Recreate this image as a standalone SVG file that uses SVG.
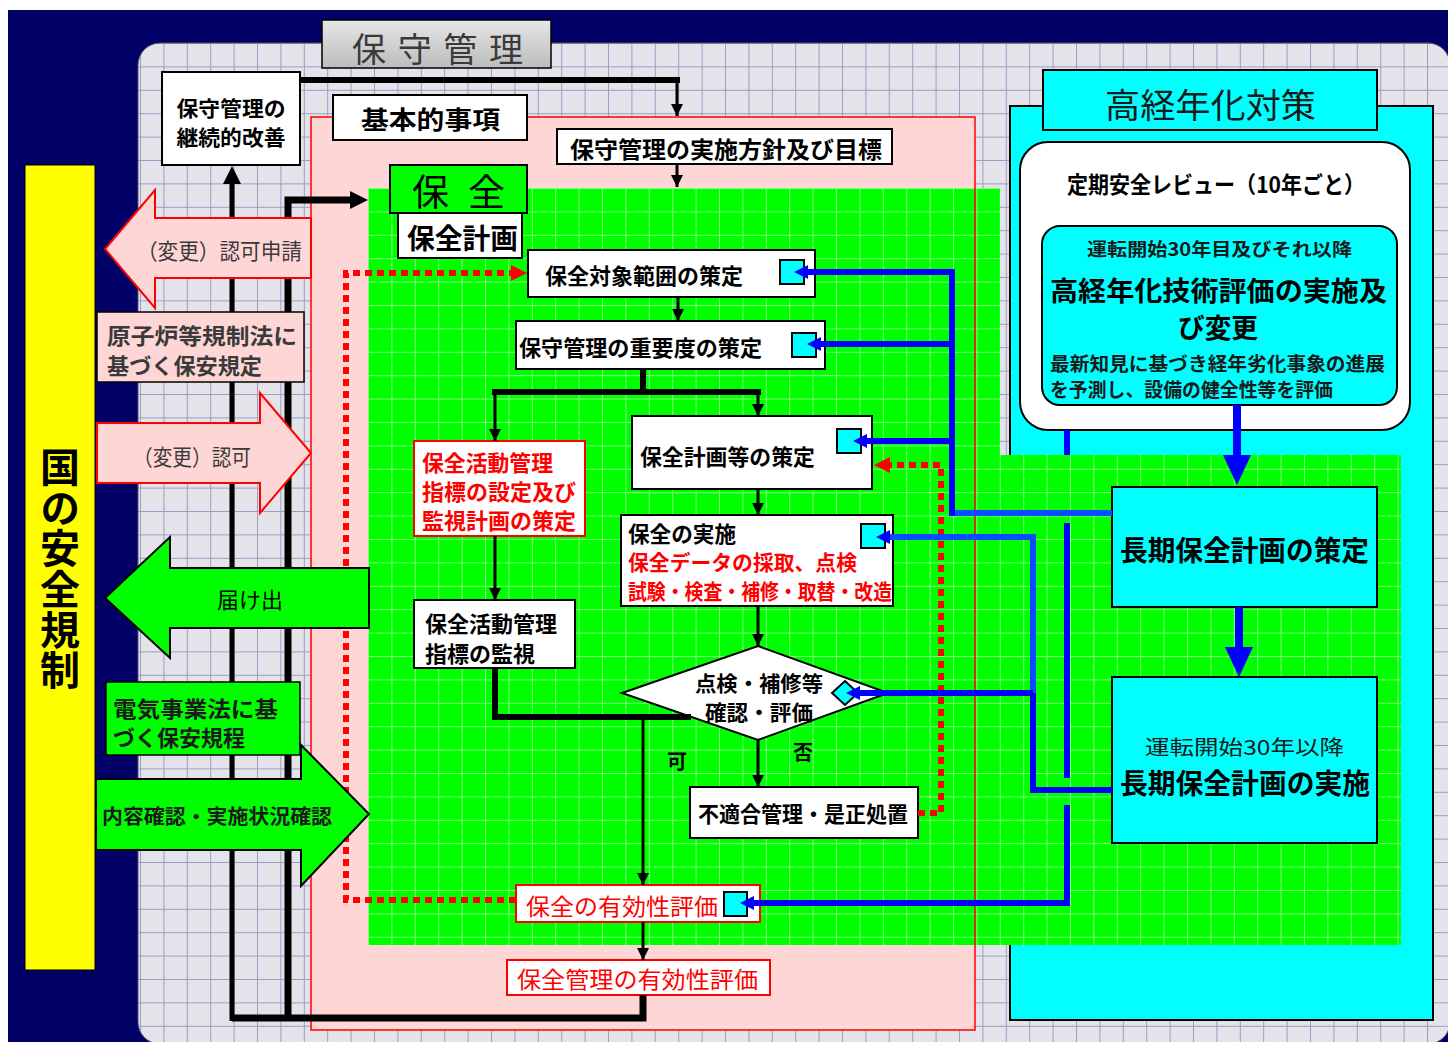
<svg xmlns="http://www.w3.org/2000/svg" width="1448" height="1042" viewBox="0 0 1448 1042">
<defs>
<style>
.t{font-family:"Noto Sans CJK JP","Noto Sans CJK SC",sans-serif;dominant-baseline:central}
.b{font-weight:700}
.m{text-anchor:middle}
.red{fill:#ff0000}
.gr{fill:#3a3a3a}
.dk{fill:#1a1a1a}
.box{fill:#ffffff;stroke:#000000;stroke-width:2}
.rbox{fill:#ffffff;stroke:#ff0000;stroke-width:2}
.sq{fill:#00ffff;stroke:#000000;stroke-width:2}
.ck{fill:none;stroke:#000000;stroke-width:3}
.ckT{fill:none;stroke:#000000;stroke-width:6}
.cb{fill:none;stroke:#0000ff;stroke-width:6}
.cb2{fill:none;stroke:#0a4cff;stroke-width:6}
.cr{fill:none;stroke:#ff0000;stroke-width:6;stroke-dasharray:7 5}
.parr{fill:#ffd6d6;stroke:#ff0000;stroke-width:2}
.garr{fill:#00ff00;stroke:#000000;stroke-width:2}
.cyan{fill:#00ffff;stroke:#000000;stroke-width:2}
</style>
<pattern id="gg" x="140" y="43" width="23.4" height="23.4" patternUnits="userSpaceOnUse">
<rect width="23.4" height="23.4" fill="#e3e3e9"/>
<path d="M0 0.5H23.4M0.5 0V23.4" stroke="#9c9cc4" stroke-width="1"/>
</pattern>
<pattern id="gn" x="368" y="188" width="23.4" height="23.4" patternUnits="userSpaceOnUse">
<rect width="23.4" height="23.4" fill="#00ff00"/>
<path d="M0 0.5H23.4M0.5 0V23.4" stroke="#80ff80" stroke-width="1"/>
</pattern>
<linearGradient id="tabg" x1="0" y1="0" x2="0" y2="1">
<stop offset="0" stop-color="#e6e6e6"/><stop offset="1" stop-color="#bcbcbc"/>
</linearGradient>
<marker id="mK" viewBox="0 0 12 12" markerWidth="12" markerHeight="12" refX="12" refY="6" orient="auto" markerUnits="userSpaceOnUse"><path d="M0,0L12,6L0,12z" fill="#000000"/></marker>
<marker id="mKL" viewBox="0 0 18 18" markerWidth="18" markerHeight="18" refX="10" refY="9" orient="auto" markerUnits="userSpaceOnUse"><path d="M0,0L18,9L0,18z" fill="#000000"/></marker>
<marker id="mB" viewBox="0 0 14 14" markerWidth="14" markerHeight="14" refX="7" refY="7" orient="auto" markerUnits="userSpaceOnUse"><path d="M0,0L14,7L0,14z" fill="#0000ff"/></marker>
<marker id="mBL" viewBox="0 0 30 28" markerWidth="30" markerHeight="28" refX="4" refY="14" orient="auto" markerUnits="userSpaceOnUse"><path d="M0,0L30,14L0,28z" fill="#0000ff"/></marker>
<marker id="mR" viewBox="0 0 16 16" markerWidth="16" markerHeight="16" refX="4" refY="8" orient="auto" markerUnits="userSpaceOnUse"><path d="M0,0L16,8L0,16z" fill="#ff0000"/></marker>
</defs>

<g id="background">
<rect x="0" y="0" width="1448" height="1042" fill="#ffffff"/>
<rect x="8" y="10" width="1440" height="1032" fill="#000066"/>
<rect x="138" y="43" width="1312" height="1001" rx="22" fill="url(#gg)" stroke="#555566" stroke-width="1"/>
</g>

<g id="region-kihon">
<rect x="311" y="117" width="664" height="913" fill="#ffd6d6"/>
</g>
<g id="region-kokeinen">
<rect x="1010" y="106" width="423" height="914" fill="#00ffff" stroke="#000000" stroke-width="2"/>
</g>
<g id="region-hozen">
<path d="M368 188H1000V455H1401V945H368Z" fill="url(#gn)"/>
</g>
<rect x="311" y="117" width="664" height="913" fill="none" stroke="#ff0000" stroke-width="1.5"/>

<g id="tab-hoshu-kanri">
<rect x="322" y="20" width="229" height="48" fill="url(#tabg)" stroke="#000000" stroke-width="1.5"/>
<text class="t gr" x="352" y="47" font-size="34" textLength="171" lengthAdjust="spacing">保 守 管 理</text>
</g>

<g id="node-keizoku-kaizen">
<rect class="box" x="162" y="72" width="138" height="93"/>
<text class="t b m" x="231" y="107" font-size="21" textLength="109" lengthAdjust="spacingAndGlyphs">保守管理の</text>
<text class="t b m" x="231" y="136" font-size="21" textLength="109" lengthAdjust="spacingAndGlyphs">継続的改善</text>
</g>

<g id="tab-kihon">
<rect class="box" x="333" y="95" width="194" height="45"/>
<text class="t b" x="361" y="118" font-size="25" textLength="139" lengthAdjust="spacingAndGlyphs">基本的事項</text>
</g>

<g id="node-houshin">
<rect class="box" x="557" y="129" width="335" height="35"/>
<text class="t b" x="570" y="148" font-size="23" textLength="312" lengthAdjust="spacingAndGlyphs">保守管理の実施方針及び目標</text>
</g>

<g id="tab-hozen">
<rect x="390" y="165" width="137" height="48" fill="#00ff00" stroke="#000000" stroke-width="2"/>
<text class="t" x="412" y="190" font-size="37" textLength="93" lengthAdjust="spacing">保 全</text>
</g>

<g id="tab-hozen-keikaku">
<rect class="box" x="398" y="213" width="124" height="45"/>
<text class="t b" x="407" y="237" font-size="28" textLength="111" lengthAdjust="spacingAndGlyphs">保全計画</text>
</g>

<g id="node-taisho-hani">
<rect class="box" x="528" y="250" width="287" height="47"/>
<text class="t b" x="545" y="274" font-size="22" textLength="198" lengthAdjust="spacingAndGlyphs">保全対象範囲の策定</text>
<rect class="sq" x="780" y="260" width="24" height="24"/>
</g>

<g id="node-juyodo">
<rect class="box" x="516" y="321" width="309" height="48"/>
<text class="t b" x="519" y="346" font-size="22" textLength="243" lengthAdjust="spacingAndGlyphs">保守管理の重要度の策定</text>
<rect class="sq" x="792" y="333" width="24" height="24"/>
</g>

<g id="node-shihyo-settei">
<rect class="rbox" x="414" y="441" width="171" height="95"/>
<text class="t b red" x="422" y="461" font-size="22" textLength="131" lengthAdjust="spacingAndGlyphs">保全活動管理</text>
<text class="t b red" x="422" y="490" font-size="22" textLength="154" lengthAdjust="spacingAndGlyphs">指標の設定及び</text>
<text class="t b red" x="422" y="519" font-size="22" textLength="154" lengthAdjust="spacingAndGlyphs">監視計画の策定</text>
</g>

<g id="node-keikaku-sakutei">
<rect class="box" x="632" y="416" width="240" height="73"/>
<text class="t b" x="640" y="455" font-size="22" textLength="175" lengthAdjust="spacingAndGlyphs">保全計画等の策定</text>
<rect class="sq" x="837" y="429" width="24" height="24"/>
</g>

<g id="node-jisshi">
<rect class="box" x="621" y="515" width="272" height="91"/>
<text class="t b" x="628" y="532" font-size="22" textLength="108" lengthAdjust="spacingAndGlyphs">保全の実施</text>
<text class="t b red" x="628" y="561" font-size="21" textLength="229" lengthAdjust="spacingAndGlyphs">保全データの採取、点検</text>
<text class="t b red" x="628" y="590" font-size="21" textLength="264" lengthAdjust="spacingAndGlyphs">試験・検査・補修・取替・改造</text>
<rect class="sq" x="861" y="524" width="24" height="24"/>
</g>

<g id="node-kanshi">
<rect class="box" x="414" y="600" width="161" height="68"/>
<text class="t b" x="425" y="622" font-size="22" textLength="132" lengthAdjust="spacingAndGlyphs">保全活動管理</text>
<text class="t b" x="425" y="652" font-size="22" textLength="110" lengthAdjust="spacingAndGlyphs">指標の監視</text>
</g>

<g id="node-hyoka-diamond">
<polygon points="622,693 758,646 888,693 758,740" fill="#ffffff" stroke="#000000" stroke-width="2"/>
<text class="t b m" x="759" y="682" font-size="21" textLength="128" lengthAdjust="spacingAndGlyphs">点検・補修等</text>
<text class="t b m" x="759" y="711" font-size="21" textLength="108" lengthAdjust="spacingAndGlyphs">確認・評価</text>
<polygon points="832,693 845,681 858,693 845,705" fill="#00ffff" stroke="#000000" stroke-width="2"/>
</g>

<g id="label-ka"><text class="t b m" x="677" y="760" font-size="20">可</text></g>
<g id="label-hi"><text class="t b m" x="803" y="751" font-size="20">否</text></g>

<g id="node-futekigo">
<rect class="box" x="690" y="787" width="228" height="51"/>
<text class="t b" x="698" y="812" font-size="22" textLength="210" lengthAdjust="spacingAndGlyphs">不適合管理・是正処置</text>
</g>

<g id="node-hozen-yukosei">
<rect class="rbox" x="516" y="885" width="244" height="37"/>
<text class="t red" x="526" y="905" font-size="23" textLength="192" lengthAdjust="spacingAndGlyphs">保全の有効性評価</text>
<rect class="sq" x="724" y="892" width="23" height="24"/>
</g>

<g id="node-kanri-yukosei">
<rect class="rbox" x="507" y="960" width="263" height="35"/>
<text class="t red" x="517" y="978" font-size="23" textLength="241" lengthAdjust="spacingAndGlyphs">保全管理の有効性評価</text>
</g>

<g id="tab-kokeinen">
<rect class="cyan" x="1043" y="70" width="334" height="60"/>
<text class="t dk" x="1105" y="103" font-size="34" textLength="211" lengthAdjust="spacingAndGlyphs">高経年化対策</text>
</g>

<g id="node-teiki-review">
<rect x="1020" y="142" width="390" height="288" rx="28" fill="#ffffff" stroke="#000000" stroke-width="2"/>
<text class="t b" x="1067" y="183" font-size="23" textLength="298" lengthAdjust="spacingAndGlyphs">定期安全レビュー（10年ごと）</text>
</g>

<g id="node-kokeinen-hyoka">
<rect x="1042" y="226" width="355" height="179" rx="18" fill="#00ffff" stroke="#000000" stroke-width="2"/>
<text class="t b dk" x="1087" y="248" font-size="18" textLength="265" lengthAdjust="spacingAndGlyphs">運転開始30年目及びそれ以降</text>
<text class="t b" x="1050" y="289" font-size="27" textLength="337" lengthAdjust="spacingAndGlyphs">高経年化技術評価の実施及</text>
<text class="t b" x="1178" y="326" font-size="27" textLength="80" lengthAdjust="spacingAndGlyphs">び変更</text>
<text class="t b dk" x="1050" y="362" font-size="19" textLength="335" lengthAdjust="spacingAndGlyphs">最新知見に基づき経年劣化事象の進展</text>
<text class="t b dk" x="1050" y="388" font-size="19" textLength="283" lengthAdjust="spacingAndGlyphs">を予測し、設備の健全性等を評価</text>
</g>

<g id="node-choki-sakutei">
<rect class="cyan" x="1112" y="487" width="265" height="120"/>
<text class="t b" x="1120" y="549" font-size="28" textLength="249" lengthAdjust="spacingAndGlyphs">長期保全計画の策定</text>
</g>

<g id="node-choki-jisshi">
<rect class="cyan" x="1112" y="677" width="265" height="166"/>
<text class="t dk" x="1145" y="746" font-size="20" textLength="199" lengthAdjust="spacingAndGlyphs">運転開始30年以降</text>
<text class="t b" x="1120" y="782" font-size="28" textLength="250" lengthAdjust="spacingAndGlyphs">長期保全計画の実施</text>
</g>

<g id="connectors">
<path class="ckT" d="M300 80H680"/>
<path class="ck" d="M677 80V116" marker-end="url(#mK)"/>
<path class="ck" d="M677 164V187" marker-end="url(#mK)"/>
<path class="ck" d="M678 297V321" marker-end="url(#mK)"/>
<path class="ckT" d="M643 369V392"/>
<path class="ckT" d="M492 392H761"/>
<path class="ck" d="M495 392V441" marker-end="url(#mK)"/>
<path class="ck" d="M758 392V416" marker-end="url(#mK)"/>
<path class="ck" d="M758 489V515" marker-end="url(#mK)"/>
<path class="ck" d="M495 536V600" marker-end="url(#mK)"/>
<path class="ck" d="M758 606V646" marker-end="url(#mK)"/>
<path class="ckT" d="M495 668V717H691"/>
<path class="ck" d="M643 717V885" marker-end="url(#mK)"/>
<path class="ck" d="M758 740V787" marker-end="url(#mK)"/>
<path class="ck" d="M643 922V960" marker-end="url(#mK)"/>
<path fill="none" stroke="#000000" stroke-width="7" d="M643 995V1018H232"/>
<path fill="none" stroke="#000000" stroke-width="5" d="M232 1021V174" marker-end="url(#mKL)"/>
<path fill="none" stroke="#000000" stroke-width="7" d="M288 1018V200H360" marker-end="url(#mKL)"/>
<path class="cr" d="M516 900H346V273H515" marker-end="url(#mR)"/>
<path class="cr" d="M918 813H941V465H886" marker-end="url(#mR)"/>
<path class="cb2" d="M1112 513H952"/>
<path class="cb" d="M952 516V272H801" marker-end="url(#mB)"/>
<path class="cb" d="M952 344H814" marker-end="url(#mB)"/>
<path class="cb" d="M952 441H860" marker-end="url(#mB)"/>
<path class="cb" d="M1112 790H1033V693"/>
<path class="cb2" d="M1033 693V537H883" marker-end="url(#mB)"/>
<path class="cb" d="M1033 693H853" marker-end="url(#mB)"/>
<path class="cb" d="M1067 430V455"/>
<path class="cb" d="M1067 523V778"/>
<path class="cb" d="M1067 805V903H747" marker-end="url(#mB)"/>
<path fill="none" stroke="#0000ff" stroke-width="8" d="M1237 405V459" marker-end="url(#mBL)"/>
<path fill="none" stroke="#0000ff" stroke-width="8" d="M1239 607V651" marker-end="url(#mBL)"/>
</g>

<g id="node-kuni-kisei">
<rect x="25" y="165" width="70" height="805" fill="#ffff00" stroke="#000000" stroke-width="1"/>
<text class="t b" x="60" y="447" font-size="40" writing-mode="vertical-rl" letter-spacing="0.6" style="dominant-baseline:auto">国の安全規制</text>
</g>

<g id="arrow-ninka-shinsei">
<polygon class="parr" points="311,218 155,218 155,190 105,249 155,308 155,278 311,278"/>
<text class="t gr" x="137" y="249" font-size="22" textLength="165" lengthAdjust="spacingAndGlyphs">（変更）認可申請</text>
</g>

<g id="node-hoan-kitei">
<rect x="97" y="312" width="207" height="70" fill="#ffd6d6" stroke="#000000" stroke-width="1.5"/>
<text class="t b gr" x="107" y="334" font-size="22" textLength="190" lengthAdjust="spacingAndGlyphs">原子炉等規制法に</text>
<text class="t b gr" x="107" y="364" font-size="22" textLength="155" lengthAdjust="spacingAndGlyphs">基づく保安規定</text>
</g>

<g id="arrow-ninka">
<polygon class="parr" points="97,423 260,423 260,393 311,453 260,513 260,483 97,483"/>
<text class="t gr" x="133" y="455" font-size="22" textLength="118" lengthAdjust="spacingAndGlyphs">（変更）認可</text>
</g>

<g id="arrow-todokede">
<polygon class="garr" points="369,568 170,568 170,537 105,598 170,658 170,628 369,628"/>
<text class="t" x="217" y="598" font-size="22" textLength="66" lengthAdjust="spacingAndGlyphs">届け出</text>
</g>

<g id="node-denki-jigyoho">
<rect x="106" y="682" width="194" height="73" fill="#00ff00" stroke="#000000" stroke-width="1.5"/>
<text class="t b dk" x="113" y="707" font-size="22" textLength="165" lengthAdjust="spacingAndGlyphs">電気事業法に基</text>
<text class="t b dk" x="113" y="736" font-size="22" textLength="132" lengthAdjust="spacingAndGlyphs">づく保安規程</text>
</g>

<g id="arrow-naiyo-kakunin">
<polygon class="garr" points="96,779 301,779 301,745 369,814 301,886 301,850 96,850"/>
<text class="t b dk" x="102" y="815" font-size="20" textLength="230" lengthAdjust="spacingAndGlyphs">内容確認・実施状況確認</text>
</g>
</svg>
